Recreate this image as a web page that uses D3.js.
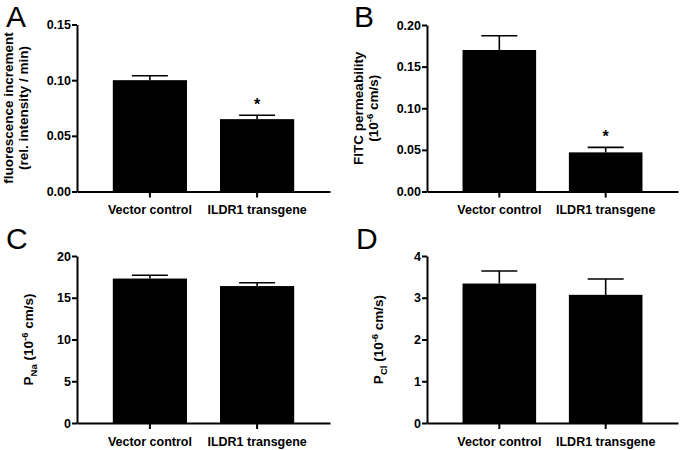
<!DOCTYPE html>
<html>
<head>
<meta charset="utf-8">
<script src="https://cdn.jsdelivr.net/npm/d3@7"></script>
<style>
  body { margin: 0; background: #fff; }
  text { font-family: "Liberation Sans", Arial, Helvetica, sans-serif; }
</style>
</head>
<body>
<svg id="chart" width="680" height="450"></svg>
<script>
// data
const categories = ["Vector control", "ILDR1 transgene"];

const fluorescenceMean = [0.100, 0.065];
const fluorescenceErr = [0.004, 0.0035];
const fluorescenceTicks = [0, 0.05, 0.10, 0.15];

const fitcMean = [0.170, 0.047];
const fitcErr = [0.017, 0.006];
const fitcTicks = [0, 0.05, 0.10, 0.15, 0.20];

const pNaMean = [17.3, 16.4];
const pNaErr = [0.4, 0.4];
const pNaTicks = [0, 5, 10, 15, 20];

const pClMean = [3.34, 3.07];
const pClErr = [0.30, 0.38];
const pClTicks = [0, 1, 2, 3, 4];

const starFlags = [false, true];

// layout per panel
const panels = [
  { letter: "A", mean: fluorescenceMean, err: fluorescenceErr, ticks: fluorescenceTicks, fmt: ".2f",
    stars: starFlags, left: 77, right: 330, top: 24.5, bottom: 191.5, lx: 6, ly: 27,
    label: [["fluorescence increment"], ["(rel. intensity / min)"]] },
  { letter: "B", mean: fitcMean, err: fitcErr, ticks: fitcTicks, fmt: ".2f",
    stars: starFlags, left: 427, right: 678, top: 25, bottom: 191.5, lx: 354, ly: 27,
    label: [["FITC permeability"], ["(10", ["-6", "sup"], " cm/s)"]] },
  { letter: "C", mean: pNaMean, err: pNaErr, ticks: pNaTicks, fmt: "d",
    stars: null, left: 77, right: 330, top: 256, bottom: 423, lx: 6, ly: 249,
    label: [["P", ["Na", "sub"], " (10", ["-6", "sup"], " cm/s)"]] },
  { letter: "D", mean: pClMean, err: pClErr, ticks: pClTicks, fmt: "d",
    stars: null, left: 427, right: 678, top: 256, bottom: 423, lx: 356, ly: 249,
    label: [["P", ["Cl", "sub"], " (10", ["-6", "sup"], " cm/s)"]] }
];

const svg = d3.select("#chart");

panels.forEach(p => {
  const g = svg.append("g");

  const x = d3.scaleBand()
    .domain(categories)
    .range([p.left, p.right])
    .paddingInner(0.308)
    .paddingOuter(0.334);

  const y = d3.scaleLinear()
    .domain([0, d3.max(p.ticks)])
    .range([p.bottom, p.top]);

  // bars
  g.selectAll(".bar")
    .data(categories)
    .join("rect")
    .attr("class", "bar")
    .attr("x", d => x(d))
    .attr("width", x.bandwidth())
    .attr("y", (d, i) => y(p.mean[i]))
    .attr("height", (d, i) => y(0) - y(p.mean[i]))
    .attr("fill", "#000");

  // upper error bars
  const capW = 36;
  categories.forEach((c, i) => {
    const cx = x(c) + x.bandwidth() / 2;
    const yTop = y(p.mean[i] + p.err[i]);
    g.append("line")
      .attr("x1", cx).attr("x2", cx)
      .attr("y1", y(p.mean[i])).attr("y2", yTop)
      .attr("stroke", "#000").attr("stroke-width", 1.6);
    g.append("line")
      .attr("x1", cx - capW / 2).attr("x2", cx + capW / 2)
      .attr("y1", yTop).attr("y2", yTop)
      .attr("stroke", "#000").attr("stroke-width", 1.6);
    if (p.stars && p.stars[i]) {
      g.append("text")
        .attr("x", cx)
        .attr("y", yTop - 5)
        .attr("text-anchor", "middle")
        .attr("font-size", 16)
        .attr("font-weight", "bold")
        .text("*");
    }
  });

  // y axis
  const yAxis = g.append("g")
    .attr("transform", "translate(" + p.left + ",0)")
    .call(d3.axisLeft(y)
      .tickValues(p.ticks)
      .tickFormat(d3.format(p.fmt))
      .tickSize(5)
      .tickSizeOuter(0)
      .tickPadding(1));

  // x axis
  const xAxis = g.append("g")
    .attr("transform", "translate(0," + p.bottom + ")")
    .call(d3.axisBottom(x)
      .tickSize(6)
      .tickSizeOuter(0)
      .tickPadding(8));

  [yAxis, xAxis].forEach(a => {
    a.select(".domain").attr("stroke", "#000").attr("stroke-width", 2);
    a.selectAll(".tick line").attr("stroke", "#000").attr("stroke-width", 2);
    a.selectAll(".tick text")
      .attr("fill", "#000")
      .attr("font-size", 12.5)
      .attr("font-weight", "bold")
      .style("font-family", "'Liberation Sans', Arial, sans-serif");
  });

  // y axis title (rotated), one or two lines
  const midY = (p.top + p.bottom) / 2;
  const offsets = p.label.length === 2 ? [-64, -49] : [-44];
  p.label.forEach((parts, li) => {
    const t = g.append("text")
      .attr("transform", "translate(" + (p.left + offsets[li]) + "," + midY + ") rotate(-90)")
      .attr("text-anchor", "middle")
      .attr("font-size", 13.5)
      .attr("font-weight", "bold");
    let back = 0;
    parts.forEach(part => {
      if (typeof part === "string") {
        t.append("tspan").attr("dy", back).text(part);
        back = 0;
      } else {
        const shift = part[1] === "sup" ? -5.5 : 4;
        t.append("tspan")
          .attr("font-size", 9.5)
          .attr("dy", shift - back)
          .text(part[0]);
        back = -shift;
      }
    });
  });

  // panel letter
  g.append("text")
    .attr("x", p.lx)
    .attr("y", p.ly)
    .attr("font-size", 30)
    .text(p.letter);
});
</script>
</body>
</html>
